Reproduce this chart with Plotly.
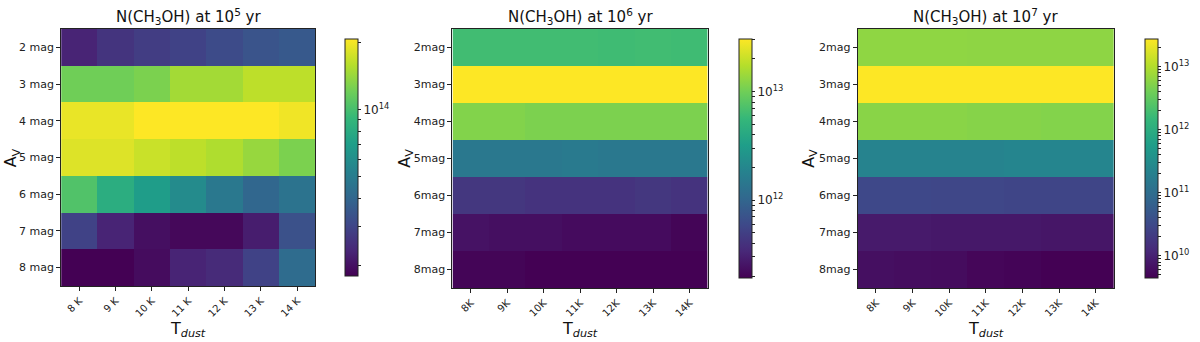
import numpy as np
import plotly.graph_objects as go

# rows: A_V (2..8 mag), columns: T_dust (8..14 K)
tdust_k = [8, 9, 10, 11, 12, 13, 14]
av_mag = [2, 3, 4, 5, 6, 7, 8]

x_labels_1 = ["8 K", "9 K", "10 K", "11 K", "12 K", "13 K", "14 K"]
y_labels_1 = ["2 mag", "3 mag", "4 mag", "5 mag", "6 mag", "7 mag", "8 mag"]
x_labels_2 = ["8K", "9K", "10K", "11K", "12K", "13K", "14K"]
y_labels_2 = ["2mag", "3mag", "4mag", "5mag", "6mag", "7mag", "8mag"]

# N(CH3OH) in cm^-2
n_1e5 = [
    [2.29e13, 2.59e13, 2.79e13, 2.92e13, 3.15e13, 3.39e13, 3.56e13],
    [1.21e14, 1.21e14, 1.27e14, 1.48e14, 1.48e14, 1.63e14, 1.63e14],
    [1.93e14, 1.93e14, 2.08e14, 2.08e14, 2.08e14, 2.08e14, 1.98e14],
    [1.84e14, 1.84e14, 1.71e14, 1.63e14, 1.55e14, 1.41e14, 1.27e14],
    [1.05e14, 8.19e13, 6.90e13, 5.81e13, 4.78e13, 4.02e13, 4.55e13],
    [2.92e13, 2.29e13, 1.98e13, 1.88e13, 1.88e13, 2.18e13, 3.31e13],
    [1.79e13, 1.79e13, 1.93e13, 2.29e13, 2.40e13, 2.92e13, 4.23e13],
]
n_1e6 = [
    [6.32e12, 6.32e12, 6.32e12, 6.32e12, 6.20e12, 6.32e12, 6.20e12],
    [3.04e13, 3.04e13, 3.04e13, 3.04e13, 3.04e13, 3.04e13, 3.04e13],
    [1.16e13, 1.16e13, 1.10e13, 1.10e13, 1.10e13, 1.10e13, 1.10e13],
    [1.46e12, 1.46e12, 1.46e12, 1.53e12, 1.46e12, 1.46e12, 1.46e12],
    [4.32e11, 4.32e11, 4.10e11, 4.10e11, 4.10e11, 4.32e11, 4.10e11],
    [2.47e11, 2.35e11, 2.35e11, 2.23e11, 2.23e11, 2.23e11, 2.02e11],
    [2.02e11, 2.02e11, 1.92e11, 1.92e11, 1.92e11, 1.92e11, 1.92e11],
]
n_1e7 = [
    [6.24e12, 6.24e12, 6.24e12, 6.10e12, 6.10e12, 6.10e12, 6.10e12],
    [2.75e13, 2.75e13, 2.75e13, 2.75e13, 2.75e13, 2.75e13, 2.75e13],
    [5.72e12, 5.72e12, 5.72e12, 5.48e12, 5.48e12, 5.24e12, 5.24e12],
    [2.26e11, 2.26e11, 2.26e11, 2.26e11, 2.36e11, 2.36e11, 2.36e11],
    [3.04e10, 3.04e10, 2.90e10, 2.90e10, 2.79e10, 2.79e10, 2.79e10],
    [8.21e9, 8.21e9, 7.86e9, 7.86e9, 7.86e9, 7.52e9, 7.52e9],
    [6.32e9, 6.05e9, 5.80e9, 5.06e9, 4.86e9, 4.46e9, 4.46e9],
]

panels = [
    ("N(CH<sub>3</sub>OH) at 10<sup>5</sup> yr", n_1e5, x_labels_1, y_labels_1),
    ("N(CH<sub>3</sub>OH) at 10<sup>6</sup> yr", n_1e6, x_labels_2, y_labels_2),
    ("N(CH<sub>3</sub>OH) at 10<sup>7</sup> yr", n_1e7, x_labels_2, y_labels_2),
]

# pixel geometry of each panel: plot left, right, top, bottom, colorbar left
W, H = 1200, 342
boxes = [
    (62, 320, 29, 286, 340),
    (459, 718, 29, 288, 739),
    (870, 1130, 29, 288, 1151),
]
ylab_x = [12, 411, 821]


def cbar_ticks(zmin, zmax):
    vals, text = [], []
    for e in range(int(np.floor(zmin)), int(np.ceil(zmax)) + 1):
        for m in range(1, 10):
            v = np.log10(m * 10.0 ** e)
            if zmin - 1e-9 <= v <= zmax + 1e-9:
                vals.append(v)
                text.append("10<sup>%d</sup>" % e if m == 1 else "")
    return vals, text


fig = go.Figure()
ann = []
font = "DejaVu Sans"
for i, (title, vals, xl, yl) in enumerate(panels):
    x0, x1, y0, y1, cbx = boxes[i]
    z = np.log10(np.array(vals))
    tv, tt = cbar_ticks(z.min(), z.max())
    n = i + 1
    fig.add_trace(go.Heatmap(
        z=z, x=xl, y=yl, colorscale="Viridis",
        xaxis="x%d" % n, yaxis="y%d" % n,
        colorbar=dict(
            x=cbx / W, xanchor="left", y=1 - y0 / H, yanchor="top",
            len=(y1 - y0) / H, lenmode="fraction", thickness=13,
            outlinecolor="#222", outlinewidth=1,
            tickmode="array", tickvals=tv, ticktext=tt,
            ticks="outside", ticklen=3, tickcolor="#222",
            tickfont=dict(family=font, size=12, color="#222"),
        ),
    ))
    ax = dict(
        domain=[x0 / W, x1 / W], anchor="y%d" % n,
        showline=True, mirror=True, linecolor="#222", linewidth=1,
        ticks="outside", ticklen=4, tickcolor="#222", tickangle=-45,
        tickfont=dict(family=font, size=10, color="#222"),
        showgrid=False, zeroline=False,
    )
    ay = dict(
        domain=[1 - y1 / H, 1 - y0 / H], anchor="x%d" % n,
        autorange="reversed",
        showline=True, mirror=True, linecolor="#222", linewidth=1,
        ticks="outside", ticklen=4, tickcolor="#222",
        tickfont=dict(family=font, size=11, color="#222"),
        showgrid=False, zeroline=False,
    )
    fig.update_layout({"xaxis%d" % n: ax, "yaxis%d" % n: ay})
    ann.append(dict(text=title, x=(x0 + x1) / 2 / W, y=1 - 16 / H,
                    xanchor="center", yanchor="middle",
                    xref="paper", yref="paper", showarrow=False,
                    font=dict(family=font, size=15, color="#111")))
    ann.append(dict(text="T<sub><i>dust</i></sub>", x=(x0 + x1) / 2 / W, y=1 - 329 / H,
                    xanchor="center", yanchor="middle",
                    xref="paper", yref="paper", showarrow=False,
                    font=dict(family=font, size=16, color="#111")))
    ann.append(dict(text="A<sub>V</sub>", x=ylab_x[i] / W, y=1 - (y0 + y1) / 2 / H,
                    xanchor="center", yanchor="middle",
                    xref="paper", yref="paper", showarrow=False, textangle=-90,
                    font=dict(family=font, size=16, color="#111")))

fig.update_layout(
    width=W, height=H,
    margin=dict(l=0, r=0, t=0, b=0),
    paper_bgcolor="white", plot_bgcolor="white",
    annotations=ann, showlegend=False,
)

fig.write_html("out.html", config={"displayModeBar": False},
               post_script="document.body.style.margin='0';")
